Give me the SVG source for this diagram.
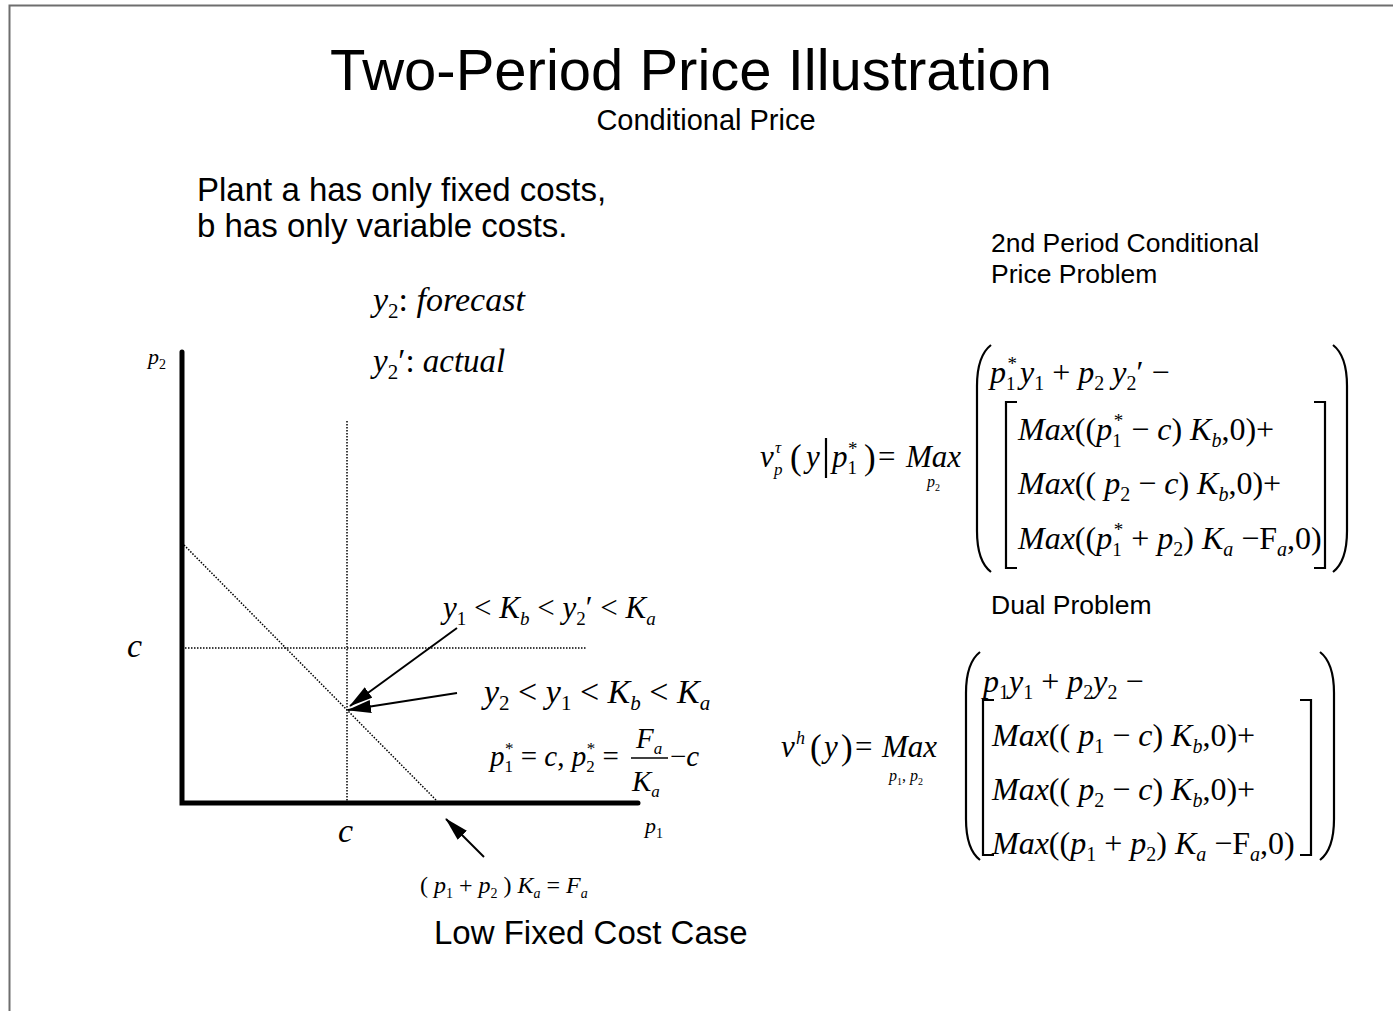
<svg xmlns="http://www.w3.org/2000/svg" width="1393" height="1011" viewBox="0 0 1393 1011">
<style>
.t{font-family:"Liberation Sans",Arial,sans-serif;fill:#000}
.m{font-family:"Liberation Serif","Times New Roman",serif;font-style:italic;fill:#000}
.r{font-style:normal}
.ax{stroke:#000;stroke-width:5;stroke-linecap:round;fill:none}
.dot{stroke:#000;stroke-width:1.5;stroke-dasharray:1.5 1.5;fill:none}
.arr{stroke:#000;stroke-width:2;fill:none;marker-end:url(#ah)}
.dl{stroke:#000;stroke-width:2.2;fill:none}
</style>
<defs>
<marker id="ah" markerUnits="userSpaceOnUse" viewBox="0 0 24 13" refX="23" refY="6.5" markerWidth="24" markerHeight="13" orient="auto">
<path d="M0,0 L24,6.5 L0,13 Z" fill="#000"/>
</marker>
</defs>
<rect width="1393" height="1011" fill="#fff"/>
<path d="M9.5,1011 V5.5 H1393" fill="none" stroke="#6e6e6e" stroke-width="2"/>

<g id="title">
<text class="t" x="691" y="90" font-size="58" text-anchor="middle">Two-Period Price Illustration</text>
<text class="t" x="706" y="130" font-size="29" text-anchor="middle">Conditional Price</text>
</g>
<g id="note">
<text class="t" x="197" y="201" font-size="33">Plant a has only fixed costs,</text>
<text class="t" x="197" y="237" font-size="33">b has only variable costs.</text>
</g>
<g id="labels-right">
<text class="t" x="991" y="252" font-size="26.5">2nd Period Conditional</text>
<text class="t" x="991" y="283" font-size="26.5">Price Problem</text>
<text class="t" x="991" y="614" font-size="26.5">Dual Problem</text>
<text class="t" x="434" y="944" font-size="33">Low Fixed Cost Case</text>
</g>

<g id="graph">
<path class="ax" d="M182,352 V803 H638"/>
<line class="dot" x1="185" y1="648" x2="586" y2="648"/>
<line class="dot" x1="347" y1="421" x2="347" y2="801"/>
<line class="dot" x1="184" y1="545" x2="437" y2="801"/>
<text class="m" x="148" y="364" font-size="22">p<tspan class="r" font-size="14" baseline-shift="-5">2</tspan></text>
<text class="m" x="645" y="833" font-size="22">p<tspan class="r" font-size="14" baseline-shift="-5">1</tspan></text>
<text class="m" x="127" y="657" font-size="34">c</text>
<text class="m" x="338" y="842" font-size="34">c</text>
<text class="m" x="373" y="311" font-size="34">y<tspan class="r" font-size="21" baseline-shift="-7">2</tspan><tspan class="r">:</tspan> forecast</text>
<text class="m" x="373" y="372" font-size="33">y<tspan class="r" font-size="21" baseline-shift="-7">2</tspan><tspan class="r">′:</tspan> actual</text>
<text class="m" x="443" y="618" font-size="31">y<tspan class="r" font-size="19" baseline-shift="-7">1</tspan><tspan class="r"> &lt; </tspan>K<tspan font-size="19" baseline-shift="-7">b</tspan><tspan class="r"> &lt; </tspan>y<tspan class="r" font-size="19" baseline-shift="-7">2</tspan><tspan class="r">′ &lt; </tspan>K<tspan font-size="19" baseline-shift="-7">a</tspan></text>
<text class="m" x="484" y="703" font-size="34">y<tspan class="r" font-size="21" baseline-shift="-7">2</tspan><tspan class="r"> &lt; </tspan>y<tspan class="r" font-size="21" baseline-shift="-7">1</tspan><tspan class="r"> &lt; </tspan>K<tspan font-size="21" baseline-shift="-7">b</tspan><tspan class="r"> &lt; </tspan>K<tspan font-size="21" baseline-shift="-7">a</tspan></text>
<text class="m" x="490" y="766" font-size="29">p<tspan class="r" font-size="17" baseline-shift="-6">1</tspan><tspan class="r" font-size="17" dx="-8" baseline-shift="12">*</tspan><tspan class="r"> = </tspan>c<tspan class="r">, </tspan>p<tspan class="r" font-size="17" baseline-shift="-6">2</tspan><tspan class="r" font-size="17" dx="-8" baseline-shift="12">*</tspan><tspan class="r"> =</tspan></text>
<text class="m" x="636" y="748" font-size="29">F<tspan font-size="17" baseline-shift="-6">a</tspan></text>
<line x1="631" y1="758" x2="668" y2="758" stroke="#000" stroke-width="1.5"/>
<text class="m" x="632" y="791" font-size="29">K<tspan font-size="17" baseline-shift="-6">a</tspan></text>
<text class="m" x="670" y="766" font-size="29"><tspan class="r">−</tspan>c</text>
<text class="m" x="420" y="893" font-size="24"><tspan class="r">( </tspan>p<tspan class="r" font-size="14" baseline-shift="-5">1</tspan><tspan class="r"> + </tspan>p<tspan class="r" font-size="14" baseline-shift="-5">2</tspan><tspan class="r"> ) </tspan>K<tspan font-size="14" baseline-shift="-5">a</tspan><tspan class="r"> = </tspan>F<tspan font-size="14" baseline-shift="-5">a</tspan></text>
</g>

<g id="connectors">
<line class="arr" x1="457" y1="628" x2="350" y2="706"/>
<line class="arr" x1="457" y1="693" x2="348" y2="710"/>
<line class="arr" x1="484" y1="857" x2="446" y2="819"/>
</g>

<g id="formula-conditional">
<text class="m" x="760" y="467" font-size="31">v</text>
<text class="m" x="775" y="453" font-size="17">τ</text>
<text class="m" x="774" y="475" font-size="17">p</text>
<text class="m r" x="790" y="469" font-size="35">(</text>
<text class="m" x="806" y="467" font-size="31">y</text>
<line class="dl" x1="826" y1="438" x2="826" y2="478"/>
<text class="m" x="832" y="467" font-size="31">p<tspan class="r" font-size="19" baseline-shift="-7">1</tspan><tspan class="r" font-size="19" dx="-9" baseline-shift="12">*</tspan></text>
<text class="m r" x="864" y="469" font-size="35">)</text>
<text class="m r" x="878" y="467" font-size="31">=</text>
<text class="m" x="906" y="467" font-size="31">Max</text>
<text class="m" x="927" y="487" font-size="16">p<tspan class="r" font-size="10" baseline-shift="-4">2</tspan></text>
<path class="dl" d="M991,345 C982,352 977,366 977,386 L977,531 C977,551 982,565 991,572"/>
<path class="dl" d="M1333,345 C1342,352 1347,366 1347,386 L1347,531 C1347,551 1342,565 1333,572"/>
<path class="dl" d="M1017,402 H1006 V568 H1017"/>
<path class="dl" d="M1314,402 H1325 V568 H1314"/>
<text class="m" x="990" y="383" font-size="32">p<tspan class="r" font-size="19" baseline-shift="-7">1</tspan><tspan class="r" font-size="19" dx="-8" baseline-shift="13">*</tspan><tspan dx="3">y</tspan><tspan class="r" font-size="20" baseline-shift="-7">1</tspan><tspan class="r"> + </tspan>p<tspan class="r" font-size="20" baseline-shift="-7">2</tspan> y<tspan class="r" font-size="20" baseline-shift="-7">2</tspan><tspan class="r">′ −</tspan></text>
<text class="m" x="1018" y="440" font-size="32">Max<tspan class="r">((</tspan>p<tspan class="r" font-size="19" baseline-shift="-7">1</tspan><tspan class="r" font-size="19" dx="-8" baseline-shift="13">*</tspan><tspan class="r"> − </tspan>c<tspan class="r">) </tspan>K<tspan font-size="20" baseline-shift="-7">b</tspan><tspan class="r">,0)+</tspan></text>
<text class="m" x="1018" y="494" font-size="32">Max<tspan class="r">(( </tspan>p<tspan class="r" font-size="20" baseline-shift="-7">2</tspan><tspan class="r"> − </tspan>c<tspan class="r">) </tspan>K<tspan font-size="20" baseline-shift="-7">b</tspan><tspan class="r">,0)+</tspan></text>
<text class="m" x="1018" y="549" font-size="32">Max<tspan class="r">((</tspan>p<tspan class="r" font-size="19" baseline-shift="-7">1</tspan><tspan class="r" font-size="19" dx="-8" baseline-shift="13">*</tspan><tspan class="r"> + </tspan>p<tspan class="r" font-size="20" baseline-shift="-7">2</tspan><tspan class="r">) </tspan>K<tspan font-size="20" baseline-shift="-7">a</tspan><tspan class="r"> −F</tspan><tspan font-size="20" baseline-shift="-7">a</tspan><tspan class="r">,0)</tspan></text>
</g>

<g id="formula-dual">
<text class="m" x="781" y="757" font-size="31">v</text>
<text class="m" x="796" y="744" font-size="18">h</text>
<text class="m r" x="810" y="759" font-size="35">(</text>
<text class="m" x="824" y="757" font-size="31">y</text>
<text class="m r" x="841" y="759" font-size="35">)</text>
<text class="m r" x="855" y="757" font-size="31">=</text>
<text class="m" x="882" y="757" font-size="31">Max</text>
<text class="m" x="889" y="781" font-size="16">p<tspan class="r" font-size="10" baseline-shift="-4">1</tspan><tspan class="r">, </tspan>p<tspan class="r" font-size="10" baseline-shift="-4">2</tspan></text>
<path class="dl" d="M980,652 C971,659 966,673 966,693 L966,819 C966,839 971,853 980,860"/>
<path class="dl" d="M1320,652 C1329,659 1334,673 1334,693 L1334,819 C1334,839 1329,853 1320,860"/>
<path class="dl" d="M994,700 H983 V855 H994"/>
<path class="dl" d="M1300,700 H1311 V855 H1300"/>
<text class="m" x="983" y="692" font-size="32">p<tspan class="r" font-size="20" baseline-shift="-7">1</tspan>y<tspan class="r" font-size="20" baseline-shift="-7">1</tspan><tspan class="r"> + </tspan>p<tspan class="r" font-size="20" baseline-shift="-7">2</tspan>y<tspan class="r" font-size="20" baseline-shift="-7">2</tspan><tspan class="r"> −</tspan></text>
<text class="m" x="992" y="746" font-size="32">Max<tspan class="r">(( </tspan>p<tspan class="r" font-size="20" baseline-shift="-7">1</tspan><tspan class="r"> − </tspan>c<tspan class="r">) </tspan>K<tspan font-size="20" baseline-shift="-7">b</tspan><tspan class="r">,0)+</tspan></text>
<text class="m" x="992" y="800" font-size="32">Max<tspan class="r">(( </tspan>p<tspan class="r" font-size="20" baseline-shift="-7">2</tspan><tspan class="r"> − </tspan>c<tspan class="r">) </tspan>K<tspan font-size="20" baseline-shift="-7">b</tspan><tspan class="r">,0)+</tspan></text>
<text class="m" x="992" y="854" font-size="32">Max<tspan class="r">((</tspan>p<tspan class="r" font-size="20" baseline-shift="-7">1</tspan><tspan class="r"> + </tspan>p<tspan class="r" font-size="20" baseline-shift="-7">2</tspan><tspan class="r">) </tspan>K<tspan font-size="20" baseline-shift="-7">a</tspan><tspan class="r"> −F</tspan><tspan font-size="20" baseline-shift="-7">a</tspan><tspan class="r">,0)</tspan></text>
</g>
</svg>
